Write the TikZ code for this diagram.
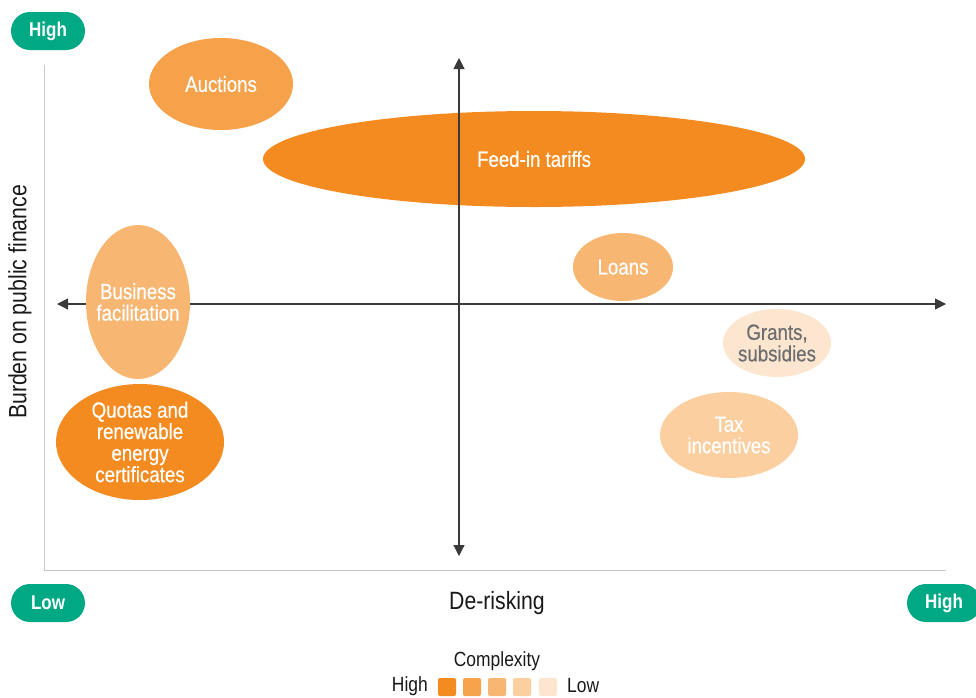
\documentclass[tikz,border=0pt]{standalone}
\usepackage{fontspec}
\setmainfont{Liberation Sans}[FakeStretch=0.85]
\usetikzlibrary{shapes.geometric,shapes.misc,arrows.meta}
\definecolor{cA}{HTML}{F38B20}
\definecolor{cB}{HTML}{F5A24B}
\definecolor{cC}{HTML}{F8B673}
\definecolor{cD}{HTML}{FBCFA0}
\definecolor{cE}{HTML}{FDE6D0}
\definecolor{teal}{HTML}{00A884}
\definecolor{txtgray}{HTML}{6D6E70}
\definecolor{axgray}{HTML}{C8C8C8}
\definecolor{axdark}{HTML}{3A3A3A}
\tikzset{
  blob/.style={ellipse, inner sep=0pt},
  blobtxt/.style={inner sep=0pt, text=white, font=\fontsize{22}{21.5}\selectfont\addfontfeature{FakeBold=0.5}, align=center},
  badge/.style={rounded rectangle, fill=teal, text=white, font=\bfseries\fontsize{20}{22}\selectfont, minimum height=38pt, minimum width=74pt, inner sep=0pt},
  ax/.style={line width=1.1pt, -{Triangle[length=11pt,width=11pt]}, draw=axdark},
  lbl/.style={font=\fontsize{25}{27}\selectfont, text=black!90},
  leg/.style={font=\fontsize{20.5}{22}\selectfont, text=black!90},
  sq/.style={fill, rounded corners=2pt, minimum size=18pt, inner sep=0pt}
}
\begin{document}
\begin{tikzpicture}[x=1pt,y=-1pt]
\useasboundingbox (0,0) rectangle (976,697);
% gray frame
\coordinate (ftop) at (44,65);
\coordinate (fcorner) at (44,570);
\coordinate (fright) at (946,570);
\draw[axgray, line width=1pt] (ftop) -- (fcorner) -- (fright);
% horizontal axis (behind the ellipses)
\coordinate (hc) at (459,304);
\coordinate (hl) at (57,304);
\coordinate (hr) at (946,304);
\draw[ax] (hc) -- (hl);
\draw[ax] (hc) -- (hr);
% ellipses
\node[blob, fill=cB, minimum width=144pt, minimum height=92pt] (auc) at (221,84) {};
\node[blobtxt] (auct) at (auc) {Auctions};
\node[blob, fill=cA, minimum width=542pt, minimum height=96pt] (fit) at (534,159) {};
\node[blob, fill=cC, minimum width=100pt, minimum height=68pt] (loans) at (623,267) {};
\node[blobtxt] (loanst) at (loans) {Loans};
\node[blob, fill=cC, minimum width=104pt, minimum height=154pt] (bus) at (138,302) {};
\node[blobtxt] (bust) at (bus) {Business\\facilitation};
\node[blob, fill=cA, minimum width=168pt, minimum height=116pt] (quo) at (140,442) {};
\node[blobtxt] (quot) at (quo) {Quotas and\\renewable\\energy\\certificates};
\node[blob, fill=cE, minimum width=108pt, minimum height=68pt] (grants) at (777,343) {};
\node[blobtxt, text=txtgray] (grantst) at (grants) {Grants,\\subsidies};
\node[blob, fill=cD, minimum width=138pt, minimum height=86pt] (tax) at (729,435) {};
\node[blobtxt] (taxt) at (tax) {Tax\\incentives};
% vertical axis (over the feed-in ellipse)
\coordinate (vt) at (459,58);
\coordinate (vb) at (459,556);
\draw[ax] (hc) -- (vt);
\draw[ax] (hc) -- (vb);
\node[blobtxt] (fitt) at (fit) {Feed-in tariffs};
% badges
\node[badge] (hightop) at (48,31) {High};
\node[badge] (low) at (48,603) {Low};
\node[badge] (highr) at (944,603) {High};
\node[lbl] (derisk) at (497,603) {De-risking};
\node[lbl, rotate=90] (burden) at (20,302) {Burden on public finance};
% legend
\node[leg] (cplx) at (497,661) {Complexity};
\node[sq, cA] (s1) at (447,687) {};
\node[sq, cB] (s2) at (472,687) {};
\node[sq, cC] (s3) at (497,687) {};
\node[sq, cD] (s4) at (522,687) {};
\node[sq, cE] (s5) at (548,687) {};
\node[leg, anchor=east, inner sep=0pt] (lh) at (428,686) {High};
\node[leg, anchor=west, inner sep=0pt] (ll) at (567,686) {Low};
\end{tikzpicture}
\end{document}
